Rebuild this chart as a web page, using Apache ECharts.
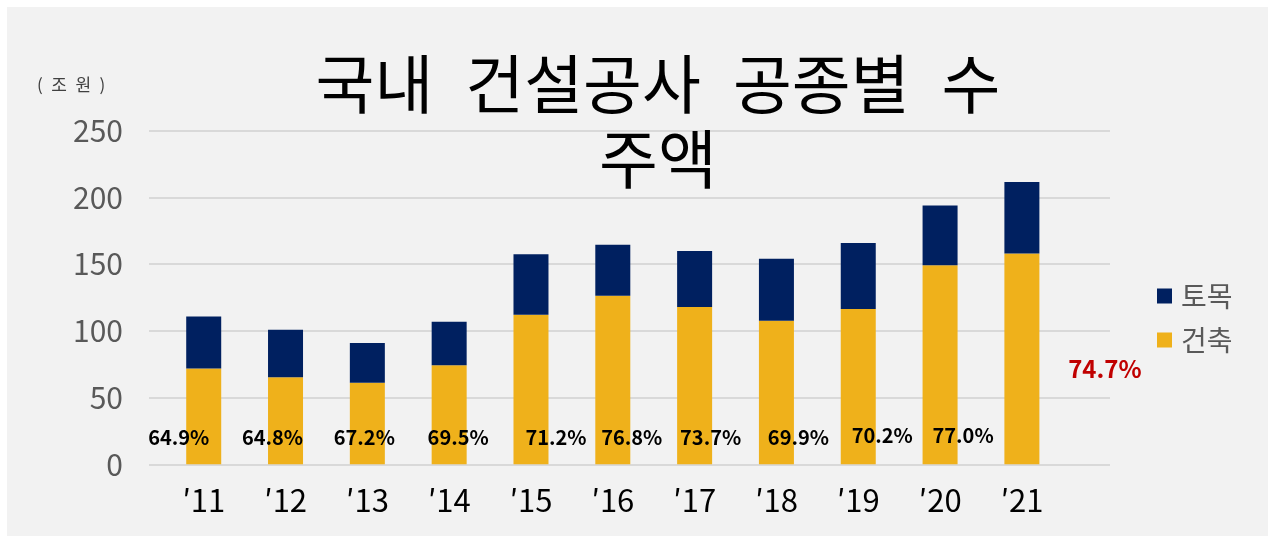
<!DOCTYPE html>
<html>
<head>
<meta charset="utf-8">
<title>국내 건설공사 공종별 수주액</title>
<script src="https://cdn.jsdelivr.net/npm/echarts@6.0.0/dist/echarts.min.js"></script>
<style>
  html, body { margin: 0; padding: 0; background: #fff; }
  #main { position: absolute; left: 7px; top: 7px; width: 1261px; height: 529px; background: #f2f2f2; }
</style>
</head>
<body>
<div id="main"></div>
<script>
// 연도 (x축)
const years = ['′11', '′12', '′13', '′14', '′15', '′16', '′17', '′18', '′19', '′20', '′21'];
// 건축 / 토목 수주액 (조 원)
const building = [71.8, 65.3, 61.1, 74.2, 112.0, 126.3, 117.8, 107.6, 116.4, 149.2, 158.0];
const civil    = [38.9, 35.5, 29.8, 32.6, 45.3, 38.2, 42.0, 46.4, 49.4, 44.6, 53.5];
// 건축 비중 라벨
const shareLabels = ['64.9%', '64.8%', '67.2%', '69.5%', '71.2%', '76.8%', '73.7%', '69.9%', '70.2%', '77.0%', '74.7%'];
const yTicks = [0, 50, 100, 150, 200, 250];

// label nudges (px) — the original text boxes were placed by hand
const labelShift = [[-25, 0], [-13, 0], [-3, 0], [9, 0], [25, 0], [19, 0], [16, 0], [22, 0], [24, -2], [23, -2], [83, 0]];

const chart = echarts.init(document.getElementById('main'));
const OX = 7, OY = 7; // container offset on the page

const plotTop = 130.6 - OY, plotH = 333.7;
const font = '"Noto Sans CJK KR", "Noto Sans", sans-serif';
const gap = '\u2002'; // wide word spacing like the original title

const buildingData = building.map((v, i) => {
  const last = i === building.length - 1;
  return {
    value: v,
    label: {
      show: true,
      position: 'insideBottom',
      distance: last ? 83 : 17,
      offset: labelShift[i],
      formatter: shareLabels[i],
      color: last ? '#c00000' : '#000',
      fontSize: last ? 24 : 20,
      fontWeight: 'bold',
      fontFamily: font
    }
  };
});

chart.setOption({
  animation: false,
  backgroundColor: '#f2f2f2',
  title: {
    text: '국내' + gap + '건설공사' + gap + '공종별' + gap + '수\n주액',
    left: 653 - OX,
    top: 41.5 - OY,
    textAlign: 'center',
    textStyle: { fontSize: 64, lineHeight: 75, fontWeight: 'normal', color: '#000', fontFamily: font }
  },
  legend: {
    data: ['토목', '건축'],
    orient: 'vertical',
    left: 1152 - OX,
    top: 277 - OY,
    itemWidth: 15,
    itemHeight: 15,
    itemGap: 16,
    icon: 'rect',
    textStyle: { fontSize: 28, color: '#595959', fontFamily: font, padding: [0, 0, 0, 4] }
  },
  graphic: [{
    type: 'text',
    left: 37 - OX,
    top: 76 - OY,
    style: { text: '(\u2002조\u2002원\u2002)', fontSize: 17, fill: '#404040', fontFamily: font }
  }],
  grid: [
    { left: 149 - OX, width: 1110 - 149, top: plotTop, height: plotH },
    { left: 162.8 - OX, width: 900, top: plotTop, height: plotH }
  ],
  xAxis: [
    { gridIndex: 0, type: 'category', data: years, show: false },
    {
      gridIndex: 1, type: 'category', data: years,
      axisLine: { show: false }, axisTick: { show: false },
      axisLabel: { margin: 20, fontSize: 31, color: '#000', fontFamily: font }
    }
  ],
  yAxis: [
    {
      gridIndex: 0, type: 'value', min: 0, max: 250, interval: 50,
      axisLine: { show: false }, axisTick: { show: false },
      axisLabel: { margin: 26, fontSize: 30, color: '#595959', fontFamily: font,
        formatter: v => yTicks.includes(v) ? String(v) : '' },
      splitLine: { lineStyle: { color: '#d9d9d9', width: 2 } }
    },
    { gridIndex: 1, type: 'value', min: 0, max: 250, interval: 50, show: false, splitLine: { show: false } }
  ],
  series: [
    {
      name: '건축', type: 'bar', xAxisIndex: 1, yAxisIndex: 1, stack: 'total',
      barWidth: 35, itemStyle: { color: '#efb11b' },
      data: buildingData
    },
    {
      name: '토목', type: 'bar', xAxisIndex: 1, yAxisIndex: 1, stack: 'total',
      barWidth: 35, itemStyle: { color: '#002060' },
      data: civil
    }
  ]
});

window.addEventListener('resize', () => chart.resize());
</script>
</body>
</html>
